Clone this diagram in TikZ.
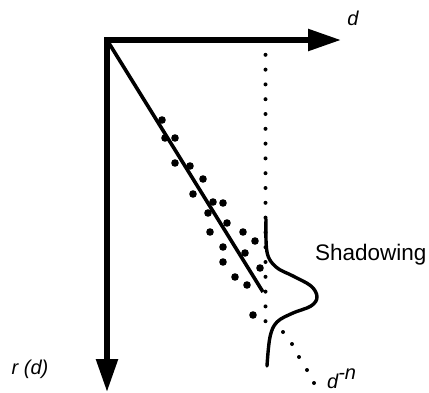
\documentclass[tikz,border=0pt]{standalone}
\usepackage{fontspec}
\setmainfont{Liberation Sans}
\usetikzlibrary{arrows.meta}

\begin{document}
\begin{tikzpicture}[
  x=1pt, y=-1pt,
  axis/.style={line width=5.5pt, -{Triangle[length=33pt, width=21pt]}},
  fit/.style={line width=3.6pt},
  prof/.style={line width=3.4pt, line cap=round},
  obs/.style={fill=black},
  lbl/.style={font=\itshape\fontsize{20}{20}\selectfont, inner sep=0pt},
  txt/.style={font=\fontsize{22.5}{22.5}\selectfont, inner sep=0pt, anchor=west}]
  \useasboundingbox (0,0) rectangle (429,392);
  % axes
  \coordinate (o) at (107,40);
  \coordinate (dtip) at (341,40);
  \coordinate (rtip) at (107,392);
  \draw[axis] ([xshift=-2.75pt]o) -- (dtip);
  \draw[axis] ([yshift=2.75pt]o) -- (rtip);
  % fitted line and scatter
  \coordinate (fitend) at (263,292);
  \draw[fit] (o) -- (fitend);
  \foreach \x/\y in {162/120, 165/138, 175/138, 175/163, 190/166, 203/179,
                     193/194, 213/202, 223/203, 208/213, 227/223, 210/232,
                     243/232, 223/247, 255/241, 245/253, 223/262, 260/268,
                     235/277, 247/285, 253/315}
    \fill[obs] (\x,\y) circle (3.8pt);
  % dotted guide and d^-n tail
  \foreach \k in {0,...,19}
    \fill (265.5,40+14.8*\k) circle (2pt);
  \foreach \x/\y in {283/332, 292/344, 299/357, 307/370, 314/383}
    \fill (\x,\y) circle (2pt);
  % shadowing profile
  \draw[prof] plot[smooth, tension=0.6] coordinates {(266,219) (267,252) (276,267)
    (293,276) (311,286) (317,297) (311,306) (293,313) (277,322) (270,337) (267,366)};
  % labels
  \node[lbl] (dlbl) at (353,18) {d};
  \node[lbl] (rlbl) at (30,369) {r (d)};
  \node[lbl, anchor=west] (nlbl) at (327,379) {d\raisebox{0.45em}{-n}};
  \node[txt] (shad) at (315,255) {Shadowing};
\end{tikzpicture}
\end{document}
